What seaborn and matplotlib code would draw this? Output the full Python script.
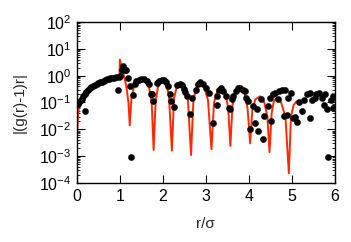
import numpy as np
import pandas as pd
import seaborn as sns
import matplotlib
matplotlib.use("Agg")
import matplotlib.pyplot as plt
from matplotlib.ticker import LogLocator, MultipleLocator, NullFormatter

# theory curve (red)
r_line = [0.0, 0.03, 0.07, 0.15, 0.3, 0.5, 0.7, 0.9, 0.99, 1.0, 1.05, 1.1, 1.15,
          1.2, 1.23, 1.27, 1.33, 1.42, 1.5, 1.6, 1.68, 1.74, 1.785, 1.83, 1.88,
          1.97, 2.06, 2.14, 2.21, 2.26, 2.33, 2.42, 2.5, 2.58, 2.655, 2.71, 2.78,
          2.87, 2.96, 3.05, 3.13, 3.19, 3.27, 3.36, 3.45, 3.52, 3.57, 3.62, 3.7,
          3.8, 3.9, 3.97, 4.03, 4.08, 4.15, 4.26, 4.36, 4.43, 4.48, 4.53, 4.58,
          4.65, 4.75, 4.85, 4.93, 4.98, 5.04, 5.11]
v_line = [0.005, 0.04, 0.1, 0.17, 0.35, 0.52, 0.72, 0.85, 0.95, 4.0, 1.8, 0.9, 0.4,
          0.1, 0.014, 0.15, 0.4, 0.65, 0.77, 0.65, 0.35, 0.1, 0.0017, 0.1, 0.35,
          0.7, 0.55, 0.2, 0.0016, 0.15, 0.42, 0.58, 0.45, 0.15, 0.0011, 0.12, 0.38,
          0.57, 0.4, 0.12, 0.0018, 0.1, 0.28, 0.35, 0.25, 0.06, 0.0024, 0.08, 0.25,
          0.35, 0.22, 0.06, 0.003, 0.05, 0.13, 0.17, 0.1, 0.03, 0.0014, 0.04, 0.11,
          0.15, 0.1, 0.03, 0.00023, 0.03, 0.08, 0.11]

# simulation points (black)
r_dots = [0.03, 0.06, 0.09, 0.12, 0.15, 0.18, 0.19, 0.22, 0.26, 0.30, 0.34, 0.38,
          0.42, 0.46, 0.50, 0.54, 0.58, 0.62, 0.66, 0.70, 0.74, 0.78, 0.82, 0.86,
          0.90, 0.95, 0.97, 1.0, 1.04, 1.08, 1.12, 1.15, 1.19, 1.23, 1.27, 1.31,
          1.35, 1.38, 1.44, 1.50, 1.57, 1.63, 1.67, 1.72, 1.74, 1.78, 1.86, 1.92,
          1.97, 2.02, 2.08, 2.12, 2.17, 2.20, 2.26, 2.33, 2.40, 2.45, 2.49, 2.52,
          2.55, 2.63, 2.68, 2.76, 2.81, 2.87, 2.94, 3.00, 3.08, 3.17, 3.25, 3.27,
          3.30, 3.36, 3.40, 3.47, 3.53, 3.56, 3.60, 3.63, 3.71, 3.74, 3.80, 3.86,
          3.90, 3.93, 3.97, 4.02, 4.10, 4.14, 4.18, 4.22, 4.29, 4.32, 4.36, 4.45,
          4.49, 4.51, 4.57, 4.60, 4.67, 4.71, 4.78, 4.81, 4.84, 4.88, 4.91, 4.98,
          5.02, 5.08, 5.12, 5.17, 5.23, 5.29, 5.36, 5.43, 5.43, 5.47, 5.53, 5.57,
          5.64, 5.71, 5.74, 5.78, 5.81, 5.84, 5.90, 5.95, 5.96]
v_dots = [0.085, 0.10, 0.12, 0.14, 0.17, 0.2, 0.05, 0.25, 0.29, 0.34, 0.38, 0.42,
          0.46, 0.5, 0.53, 0.57, 0.6, 0.65, 0.69, 0.72, 0.76, 0.8, 0.82, 0.85,
          0.88, 0.29, 0.92, 0.95, 1.66, 2.2, 1.66, 1.6, 0.81, 0.4, 0.0009, 0.19,
          0.47, 0.62, 0.71, 0.77, 0.75, 0.65, 0.49, 0.21, 0.21, 0.11, 0.54, 0.65,
          0.71, 0.69, 0.58, 0.40, 0.21, 0.11, 0.069, 0.46, 0.5, 0.44, 0.33, 0.25,
          0.17, 0.036, 0.15, 0.30, 0.5, 0.58, 0.5, 0.35, 0.23, 0.017, 0.084, 0.17,
          0.30, 0.35, 0.26, 0.17, 0.064, 0.055, 0.13, 0.17, 0.26, 0.35, 0.35, 0.30,
          0.26, 0.15, 0.11, 0.01, 0.073, 0.017, 0.055, 0.0087, 0.13, 0.0045, 0.031, 0.073,
          0.15, 0.02, 0.2, 0.23, 0.13, 0.26, 0.30, 0.031, 0.30, 0.035, 0.15, 0.23,
          0.027, 0.028, 0.018, 0.1, 0.047, 0.12, 0.2, 0.22, 0.027, 0.12, 0.15, 0.2,
          0.22, 0.15, 0.084, 0.2, 0.055, 0.0009, 0.12, 0.064, 0.17]

x_ticks = [0, 1, 2, 3, 4, 5, 6]

sns.set_style("ticks")
plt.rcParams['font.family'] = ['Liberation Sans', 'DejaVu Sans']
plt.rcParams['mathtext.fontset'] = 'custom'
plt.rcParams['mathtext.rm'] = 'Liberation Sans'

line_df = pd.DataFrame({"r": r_line, "v": v_line})
dot_df = pd.DataFrame({"r": r_dots, "v": v_dots})

fig = plt.figure(figsize=(3.51, 2.42), dpi=100)
ax = fig.add_axes([0.219, 0.244, 0.735, 0.665])

sns.lineplot(data=line_df, x="r", y="v", ax=ax, color="#ff2a00", lw=1.4,
             sort=False, estimator=None, zorder=2)
sns.scatterplot(data=dot_df, x="r", y="v", ax=ax, color="black", s=20,
                edgecolor="black", linewidth=0.3, zorder=3)

ax.set_yscale("log")
ax.set_xlim(0, 6)
ax.set_ylim(1e-4, 1e2)
ax.set_xticks(x_ticks)
ax.yaxis.set_major_locator(LogLocator(base=10, numticks=10))
ax.yaxis.set_minor_locator(LogLocator(base=10, subs=np.arange(2, 10), numticks=10))
ax.yaxis.set_minor_formatter(NullFormatter())

ax.tick_params(which="both", direction="in", top=True, right=True,
               labelsize=11.5, colors="black")
ax.tick_params(which="major", length=5.5, width=0.8, pad=4)
ax.tick_params(which="minor", length=2.5, width=0.6)
ax.tick_params(axis="x", which="minor", top=False, bottom=False)
for s in ax.spines.values():
    s.set_linewidth(1.0)
    s.set_color("black")

ax.set_xlabel("r/σ", fontsize=11, labelpad=10)
ax.set_ylabel("|(g(r)-1)r|", fontsize=11, labelpad=9)

fig.savefig("out.png", dpi=100)
